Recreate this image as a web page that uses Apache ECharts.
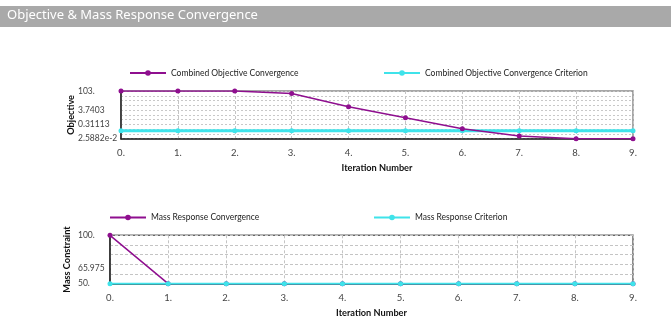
<!DOCTYPE html>
<html>
<head>
<meta charset="utf-8">
<script src="https://cdn.jsdelivr.net/npm/echarts@6/dist/echarts.min.js"></script>
<style>
  html, body { margin: 0; padding: 0; background: #fff; }
  #chart { width: 671px; height: 322px; }
</style>
</head>
<body>
<div id="chart"></div>
<script>
// Iteration numbers shared by both plots
const iterations = [0, 1, 2, 3, 4, 5, 6, 7, 8, 9];

// Objective plot (log scale)
const objectiveConvergence = [103, 103, 103, 66, 6.7, 1.0, 0.147, 0.041, 0.025882, 0.025882];
const objectiveCriterion = [0.104, 0.104, 0.104, 0.104, 0.104, 0.104, 0.104, 0.104, 0.104, 0.104];
const objectiveTicks = [0.025882, 0.31113, 3.7403, 103];
const objectiveTickText = ['2.5882e-2', '0.31113', '3.7403', '103.'];

// Mass constraint plot
const massConvergence = [100, 50, 50, 50, 50, 50, 50, 50, 50, 50];
const massCriterion = [50, 50, 50, 50, 50, 50, 50, 50, 50, 50];
const massTicks = [50, 65.975, 100];
const massTickText = ['50.', '65.975', '100.'];

const FONT = 'Lato, "Noto Sans", sans-serif';
const PURPLE = '#8f0f8f';
const CYAN = '#3fe3ea';

const pairs = (ys) => iterations.map((x, i) => [x, ys[i]]);
const tickLabel = (vals, texts) => (v) => {
  for (let i = 0; i < vals.length; i++) {
    if (Math.abs(v - vals[i]) <= Math.abs(vals[i]) * 1e-4) return texts[i];
  }
  return '';
};

const axisNameStyle = { fontFamily: FONT, fontSize: 9.2, fontWeight: 'bold', color: '#111' };

const xAxisBase = (gridIndex) => ({
  type: 'value', gridIndex, min: 0, max: 9, interval: 1,
  name: 'Iteration Number', nameLocation: 'middle', nameGap: 25, nameMoveOverlap: false,
  nameTextStyle: axisNameStyle,
  axisLine: { show: true, lineStyle: { color: '#222', width: 1.5 } },
  axisTick: { show: false },
  axisLabel: { fontFamily: FONT, fontSize: 9.5, color: '#444', margin: 9,
               formatter: (v) => v + '.' },
  splitLine: { show: true, lineStyle: { color: '#c4c4c4', type: [3, 2], width: 1 } }
});

const legendText = { fontFamily: FONT, fontSize: 8.5, color: '#222' };
const legendBase = (name, left, top) => ({
  data: [name], left, top, padding: 0, itemWidth: 36, itemHeight: 7, itemGap: 4,
  textStyle: legendText
});

const option = {
  backgroundColor: '#fff',
  animation: false,
  graphic: [
    { type: 'rect', left: 0, top: 6, shape: { width: 671, height: 21 },
      style: { fill: '#a9a9a9' }, silent: true },
    { type: 'text', left: 7, top: 9,
      style: { text: 'Objective & Mass Response Convergence', fill: '#fff',
               font: '13px "Noto Sans", sans-serif' } }
  ],
  legend: [
    legendBase('Combined Objective Convergence', 129, 68.5),
    legendBase('Combined Objective Convergence Criterion', 383, 68.5),
    legendBase('Mass Response Convergence', 109, 213),
    legendBase('Mass Response Criterion', 373, 213)
  ],
  grid: [
    { left: 121, right: 38, top: 91, height: 47.7, show: true,
      borderColor: '#8a8a8a', borderWidth: 1.5, backgroundColor: 'transparent' },
    { left: 110, right: 38, top: 235.3, height: 48.4, show: true,
      borderColor: '#666', borderWidth: 1.5, backgroundColor: 'transparent' }
  ],
  xAxis: [xAxisBase(0), xAxisBase(1)],
  yAxis: [
    {
      type: 'log', gridIndex: 0, logBase: 10,
      min: objectiveTicks[0], max: objectiveTicks[objectiveTicks.length - 1],
      name: 'Objective', nameLocation: 'middle', nameGap: 45, nameRotate: 90, nameMoveOverlap: false,
      nameTextStyle: axisNameStyle,
      axisLine: { show: true, lineStyle: { color: '#222', width: 1.5 } },
      axisTick: { show: false },
      axisLabel: { customValues: objectiveTicks, formatter: tickLabel(objectiveTicks, objectiveTickText),
                   align: 'left', margin: 43, fontFamily: FONT, fontSize: 8.5, color: '#444' },
      splitLine: { show: false }
    },
    {
      // linear companion axis that only draws the dotted horizontal grid
      type: 'value', gridIndex: 0, min: 0, max: 10, interval: 1, position: 'right',
      axisLine: { show: false }, axisTick: { show: false }, axisLabel: { show: false },
      splitLine: { show: true, lineStyle: { color: '#c8c8c8', type: [2, 2], width: 1 } }
    },
    {
      type: 'value', gridIndex: 1, min: 50, max: 100, interval: 10,
      name: 'Mass Constraint', nameLocation: 'middle', nameGap: 38, nameRotate: 90, nameMoveOverlap: false,
      nameTextStyle: axisNameStyle,
      axisLine: { show: true, lineStyle: { color: '#222', width: 1.5 } },
      axisTick: { show: false },
      axisLabel: { customValues: massTicks, formatter: tickLabel(massTicks, massTickText),
                   align: 'left', margin: 32, fontFamily: FONT, fontSize: 8.5, color: '#444' },
      splitLine: { show: true, lineStyle: { color: '#c4c4c4', type: [3, 2], width: 1 } }
    }
  ],
  series: [
    { name: 'Combined Objective Convergence Criterion', type: 'line', xAxisIndex: 0, yAxisIndex: 0,
      data: pairs(objectiveCriterion), color: CYAN, symbol: 'circle', symbolSize: 5,
      lineStyle: { width: 3, color: CYAN }, itemStyle: { color: CYAN }, z: 2 },
    { name: 'Combined Objective Convergence', type: 'line', xAxisIndex: 0, yAxisIndex: 0,
      data: pairs(objectiveConvergence), color: PURPLE, symbol: 'circle', symbolSize: 5,
      lineStyle: { width: 1.5, color: PURPLE }, itemStyle: { color: PURPLE }, z: 3 },
    { name: 'Mass Response Convergence', type: 'line', xAxisIndex: 1, yAxisIndex: 2,
      data: pairs(massConvergence), color: PURPLE, symbol: 'circle', symbolSize: 5,
      lineStyle: { width: 1.5, color: PURPLE }, itemStyle: { color: PURPLE }, z: 2 },
    { name: 'Mass Response Criterion', type: 'line', xAxisIndex: 1, yAxisIndex: 2,
      data: pairs(massCriterion), color: CYAN, symbol: 'circle', symbolSize: 5,
      lineStyle: { width: 2, color: CYAN }, itemStyle: { color: CYAN }, z: 3 }
  ]
};

const chart = echarts.init(document.getElementById('chart'), null, { renderer: 'canvas' });
chart.setOption(option);
</script>
</body>
</html>
